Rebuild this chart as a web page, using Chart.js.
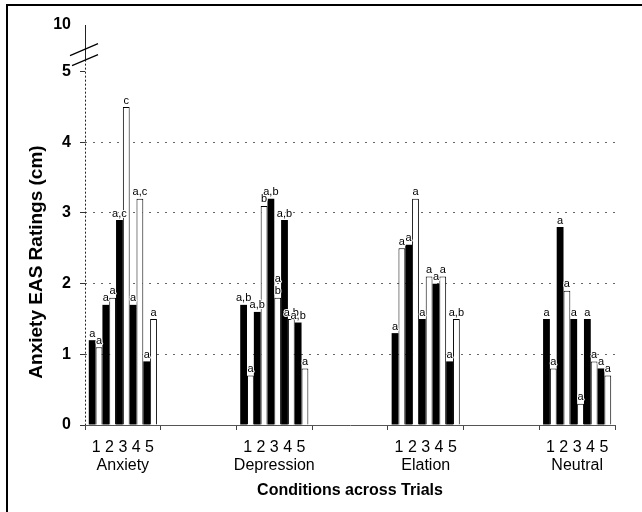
<!DOCTYPE html>
<html>
<head>
<meta charset="utf-8">
<script src="https://cdn.jsdelivr.net/npm/chart.js@4.4.1/dist/chart.umd.min.js"></script>
<style>
  body { margin: 0; background: #fff; overflow: hidden; }
  #frame { position: absolute; left: 6px; top: 4px; width: 660px; height: 540px; border: 2px solid #000; }
  #plot { position: absolute; left: 0; top: 0; }
</style>
</head>
<body>
<div id="frame"></div>
<canvas id="plot" width="642" height="512"></canvas>
<script>
// conditions and trials along the x axis
const conditions = ['Anxiety', 'Depression', 'Elation', 'Neutral']
const trials = ['1', '2', '3', '4', '5']

// mean ratings per trial (black bars / white bars)
const anxietyFilled = [1.2, 1.7, 2.9, 1.7, 0.9]
const anxietyOpen = [1.1, 1.8, 4.5, 3.2, 1.5]
const depressionFilled = [1.7, 1.6, 3.2, 2.9, 1.45]
const depressionOpen = [0.7, 3.1, 1.8, 1.5, 0.8]
const elationFilled = [1.3, 2.55, 1.5, 2.0, 0.9]
const elationOpen = [2.5, 3.2, 2.1, 2.1, 1.5]
const neutralFilled = [1.5, 2.8, 1.5, 1.5, 0.8]
const neutralOpen = [0.8, 1.9, 0.3, 0.9, 0.7]

// significance letters over each bar
const anxietyFilledTags = ['a', 'a', 'a,c', 'a', 'a']
const anxietyOpenTags = ['a', 'a', 'c', 'a,c', 'a']
const depressionFilledTags = ['a,b', 'a,b', 'a,b', 'a,b', 'a,b']
const depressionOpenTags = ['a', 'b', 'a\nb', 'a,b', 'a']
const elationFilledTags = ['a', 'a', 'a', 'a', 'a']
const elationOpenTags = ['a', 'a', 'a', 'a', 'a,b']
const neutralFilledTags = ['a', 'a', 'a', 'a', 'a']
const neutralOpenTags = ['a', 'a', 'a', 'a', 'a']

// y axis: 0..5, then a break up to 10
const yTickValues = [0, 1, 2, 3, 4, 5]
const yBreakLabel = '10'
const yTop = 5.66

const yTitle = 'Anxiety EAS Ratings (cm)'
const xTitle = 'Conditions across Trials'

const FONT = '"Liberation Sans", Arial, Helvetica, sans-serif'

var filledSets = [anxietyFilled, depressionFilled, elationFilled, neutralFilled]
var openSets = [anxietyOpen, depressionOpen, elationOpen, neutralOpen]
var filledTagSets = [anxietyFilledTags, depressionFilledTags, elationFilledTags, neutralFilledTags]
var openTagSets = [anxietyOpenTags, depressionOpenTags, elationOpenTags, neutralOpenTags]

// empty slot between conditions, like the original spreadsheet
function slotData(sets, ti) {
    var out = []
    sets.forEach(function (s, ci) {
        if (ci > 0) out.push(null)
        out.push(s[ti])
    })
    return out
}

var xLabels = []
conditions.forEach(function (c, ci) {
    if (ci > 0) xLabels.push('')
    xLabels.push([trials.join(' '), c])
})

var datasets = []
trials.forEach(function (t, ti) {
    datasets.push({
        label: 'Trial ' + t + ' (black)',
        data: slotData(filledSets, ti),
        tags: slotData(filledTagSets, ti),
        backgroundColor: '#000',
        borderWidth: 0
    })
    datasets.push({
        label: 'Trial ' + t + ' (white)',
        data: slotData(openSets, ti),
        tags: slotData(openTagSets, ti),
        backgroundColor: '#fff',
        borderColor: '#000',
        borderWidth: 1
    })
})

// letters, y axis line with the break, and the y title
var extras = {
    id: 'extras',
    afterDatasetsDraw: function (chart) {
        var ctx = chart.ctx
        ctx.save()
        ctx.font = '11px ' + FONT
        ctx.textAlign = 'center'
        ctx.textBaseline = 'bottom'
        ctx.lineJoin = 'round'
        chart.data.datasets.forEach(function (ds, di) {
            var meta = chart.getDatasetMeta(di)
            meta.data.forEach(function (bar, i) {
                if (ds.data[i] == null || !ds.tags[i]) return
                var lines = ds.tags[i].split('\n')
                lines.forEach(function (line, li) {
                    var y = bar.y - 1 - (lines.length - 1 - li) * 12
                    ctx.strokeStyle = '#fff'
                    ctx.lineWidth = 2
                    ctx.strokeText(line, bar.x, y)
                    ctx.fillStyle = '#000'
                    ctx.fillText(line, bar.x, y)
                })
            })
        })
        ctx.restore()
    },
    afterDraw: function (chart) {
        var ctx = chart.ctx
        var ys = chart.scales.y
        var x0 = chart.chartArea.left
        var y5 = ys.getPixelForValue(5)
        var yt = ys.getPixelForValue(yTop)
        var y0 = ys.getPixelForValue(0)
        ctx.save()
        ctx.strokeStyle = '#222'
        ctx.lineWidth = 1
        // solid part above the break
        ctx.beginPath()
        ctx.moveTo(x0 + 0.5, yt)
        ctx.lineTo(x0 + 0.5, y5 - 12)
        ctx.stroke()
        // dotted part below
        ctx.setLineDash([2, 2])
        ctx.beginPath()
        ctx.moveTo(x0 + 0.5, y5 - 12)
        ctx.lineTo(x0 + 0.5, y0)
        ctx.stroke()
        ctx.setLineDash([])
        // break marks
        ctx.lineWidth = 1.2
        ctx.strokeStyle = '#000'
        ctx.beginPath()
        ctx.moveTo(x0 - 15, y5 - 16)
        ctx.lineTo(x0 + 13, y5 - 28)
        ctx.moveTo(x0 - 13, y5 - 6)
        ctx.lineTo(x0 + 13, y5 - 17)
        ctx.stroke()
        // y title
        ctx.translate(37, (yt + y0) / 2 + 37)
        ctx.rotate(-Math.PI / 2)
        ctx.font = 'bold 19px ' + FONT
        ctx.textAlign = 'center'
        ctx.textBaseline = 'middle'
        ctx.fillStyle = '#000'
        ctx.fillText(yTitle, 0, 0)
        ctx.restore()
    }
}

var config = {
    type: 'bar',
    data: { labels: xLabels, datasets: datasets },
    options: {
        responsive: false,
        animation: false,
        layout: { padding: { left: 0, right: 27, top: 25, bottom: 0 } },
        plugins: {
            legend: { display: false },
            tooltip: { enabled: false }
        },
        datasets: {
            bar: { categoryPercentage: 0.9, barPercentage: 1, grouped: true }
        },
        scales: {
            x: {
                grid: {
                    offset: true,
                    drawOnChartArea: false,
                    tickLength: 5,
                    color: '#444'
                },
                border: { color: '#555', width: 1 },
                ticks: {
                    color: '#000',
                    padding: 9,
                    maxRotation: 0,
                    autoSkip: false,
                    font: { family: FONT, size: 16, lineHeight: 1.1 }
                },
                title: {
                    display: true,
                    text: xTitle,
                    color: '#000',
                    font: { family: FONT, size: 16, weight: 'bold' },
                    padding: { top: 0, bottom: 12 }
                },
                afterFit: function (s) { s.height = 87 }
            },
            y: {
                min: 0,
                max: yTop,
                afterBuildTicks: function (s) {
                    s.ticks = yTickValues.concat([yTop]).map(function (v) { return { value: v } })
                },
                grid: {
                    color: function (c) {
                        var v = c.tick ? c.tick.value : 0
                        return (v > 0 && v < 5) ? '#666' : 'rgba(0,0,0,0)'
                    },
                    tickColor: function (c) {
                        return (c.tick && c.tick.value === yTop) ? 'rgba(0,0,0,0)' : '#333'
                    },
                    tickLength: 5,
                    tickBorderDash: []
                },
                border: { display: false, dash: [2, 6] },
                ticks: {
                    color: '#000',
                    padding: 9,
                    font: { family: FONT, size: 16, weight: 'bold' },
                    callback: function (v) { return v === yTop ? yBreakLabel : String(v) }
                },
                afterFit: function (s) { s.width = 85 }
            }
        }
    },
    plugins: [extras]
}

var barchart = new Chart(document.getElementById('plot'), config)
</script>
</body>
</html>
